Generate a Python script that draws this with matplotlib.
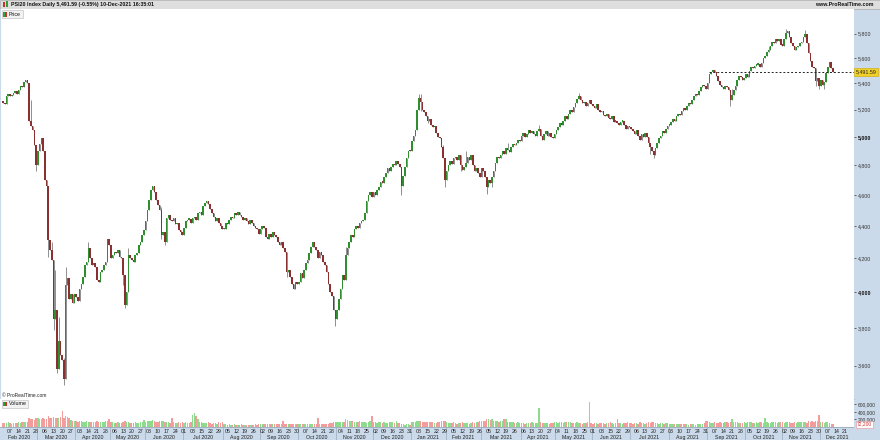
import numpy as np
import pandas as pd
import matplotlib
matplotlib.use('Agg')
from matplotlib import pyplot as plt
from matplotlib.patches import Rectangle
from matplotlib.transforms import blended_transform_factory

plt.rcParams['font.family'] = ['Liberation Sans', 'DejaVu Sans']

# ---- data ----
title = 'PSI20 Index Daily 5,491.59 (-0.55%) 10-Dec-2021 16:35:01'
site = 'www.ProRealTime.com'
first_open = 5265
last_price = 5491.59
last_volume = 72200

holidays = ['2020-04-10', '2020-04-13', '2020-05-01', '2020-12-25',
            '2021-01-01', '2021-04-02', '2021-04-05']

closes = [
    # Feb 2020
    5250, 5240, 5300, 5320, 5300, 5310, 5330, 5340, 5320, 5350, 5380, 5370, 5410, 5430, 5400, 5120, 5080, 5050, 4940, 4800,
    # Mar 2020
    4900, 4950, 4990, 4900, 4700, 4660, 4310, 4250, 4190, 3850, 3900, 3580, 3730, 3655, 3630, 3530, 4040, 4080, 3960, 3990, 3940, 3990,
    # Apr 2020
    3970, 3950, 4020, 4050, 4090, 4160, 4180, 4260, 4200, 4160, 4170, 4150, 4070, 4060, 4120, 4130, 4160, 4180, 4320, 4280,
    # May 2020
    4200, 4220, 4240, 4230, 4250, 4210, 4200, 4100, 3930, 4000, 4220, 4200, 4190, 4180, 4220, 4230, 4280, 4300, 4340, 4375,
    # Jun 2020
    4430, 4500, 4570, 4630, 4660, 4620, 4570, 4535, 4500, 4340, 4360, 4300, 4450, 4470, 4440, 4430, 4450, 4410, 4420, 4375, 4360, 4345,
    # Jul 2020
    4390, 4430, 4440, 4445, 4420, 4450, 4460, 4440, 4480, 4490, 4470, 4530, 4550, 4560, 4540, 4510, 4480, 4460, 4430, 4450, 4420, 4400, 4380,
    # Aug 2020
    4380, 4420, 4410, 4440, 4460, 4450, 4480, 4470, 4490, 4470, 4460, 4440, 4450, 4430, 4410, 4440, 4420, 4400, 4390, 4380, 4350,
    # Sep 2020
    4380, 4400, 4390, 4330, 4320, 4350, 4330, 4360, 4340, 4330, 4300, 4280, 4300, 4260, 4240, 4120, 4130, 4090, 4050, 4020, 4060, 4050,
    # Oct 2020
    4060, 4110, 4080, 4130, 4170, 4190, 4230, 4270, 4300, 4270, 4250, 4200, 4240, 4220, 4180, 4160, 4120, 4050, 4000, 3980, 3900, 3850,
    # Nov 2020
    3900, 3960, 4020, 4100, 4070, 4220, 4260, 4300, 4340, 4330, 4380, 4400, 4390, 4420, 4430, 4440, 4480, 4560, 4600, 4620, 4590,
    # Dec 2020
    4620, 4600, 4630, 4650, 4690, 4680, 4720, 4750, 4780, 4760, 4790, 4810, 4800, 4830, 4810, 4790, 4660, 4730, 4790, 4850, 4900, 4898,
    # Jan 2021
    4970, 5010, 5050, 5200, 5290, 5260, 5200, 5180, 5150, 5120, 5130, 5090, 5070, 5080, 5030, 5000, 4990, 4930, 4850, 4700,
    # Feb 2021
    4760, 4800, 4830, 4810, 4850, 4860, 4840, 4870, 4800, 4770, 4790, 4820, 4860, 4840, 4870, 4800, 4760, 4780, 4750, 4720,
    # Mar 2021
    4780, 4760, 4720, 4650, 4700, 4680, 4720, 4760, 4820, 4860, 4850, 4870, 4900, 4880, 4920, 4910, 4890, 4930, 4950, 4940, 4960, 4980, 4970,
    # Apr 2021
    5010, 5030, 5000, 5020, 5050, 5030, 5040, 5020, 5010, 5040, 5060, 5010, 4980, 5020, 5040, 5010, 5030, 5000, 4990, 5020,
    # May 2021
    5050, 5070, 5100, 5090, 5120, 5150, 5130, 5170, 5200, 5180, 5220, 5250, 5280, 5300, 5270, 5250, 5260, 5230, 5250, 5270, 5240,
    # Jun 2021
    5230, 5210, 5240, 5200, 5180, 5190, 5160, 5150, 5170, 5140, 5130, 5150, 5110, 5120, 5100, 5090, 5110, 5120, 5090, 5060, 5080, 5070,
    # Jul 2021
    5060, 5040, 5020, 5050, 5010, 4980, 5020, 5000, 5030, 5000, 4960, 4930, 4900, 4870, 4920, 4960, 4990, 5010, 5040, 5030, 5060, 5080,
    # Aug 2021
    5090, 5110, 5130, 5120, 5150, 5170, 5160, 5190, 5210, 5200, 5230, 5250, 5240, 5270, 5300, 5320, 5310, 5340, 5370, 5390, 5380, 5360,
    # Sep 2021
    5400, 5470, 5490, 5500, 5490, 5460, 5420, 5390, 5370, 5360, 5380, 5370, 5350, 5270, 5310, 5350, 5380, 5430, 5460, 5450, 5430, 5440,
    # Oct 2021
    5470, 5450, 5500, 5530, 5520, 5540, 5545, 5550, 5530, 5560, 5600, 5620, 5650, 5670, 5700, 5730, 5720, 5760, 5740, 5760, 5710,
    # Nov 2021
    5700, 5760, 5810, 5820, 5770, 5720, 5700, 5670, 5690, 5700, 5720, 5730, 5770, 5800, 5720, 5640, 5580, 5530, 5520, 5420, 5440, 5380,
    # Dec 2021
    5430, 5390, 5410, 5480, 5530, 5570, 5522, 5491.59,
]

# wicks that stand out beyond the bodies (bar index -> price)
high_marks = {16: 5270, 26: 4490, 28: 4300, 30: 4130, 32: 3860, 35: 3640, 36: 4150,
              49: 4300, 72: 4260, 91: 4520, 197: 4270, 239: 5320, 240: 5320, 253: 4940,
              266: 4900, 290: 4960, 308: 5090, 331: 5330, 419: 5360, 440: 5700,
              450: 5840, 461: 5830, 463: 5700}
low_marks = {19: 4760, 26: 4210, 29: 3790, 31: 3560, 32: 3590, 35: 3500, 47: 4120,
             69: 4040, 70: 3910, 83: 4430, 91: 4320, 93: 4280, 163: 4090, 191: 3810,
             229: 4600, 240: 5190, 244: 5100, 254: 4650, 263: 4760, 278: 4610, 281: 4650,
             372: 4880, 374: 4850, 401: 5360, 418: 5230, 467: 5380, 469: 5360, 472: 5360}

volumes_k = [
    110, 95, 100, 120, 105, 90, 100, 95, 110, 120, 105, 130, 140, 125, 120, 230, 210, 200, 190, 250,
    240, 220, 200, 230, 220, 210, 280, 240, 230, 260, 250, 240, 230, 260, 420, 250, 300, 260, 230, 180, 160, 170,
    150, 140, 160, 150, 130, 140, 150, 130, 120, 140, 130, 120, 150, 140, 130, 120, 140, 160, 150, 200,
    130, 120, 110, 100, 120, 110, 100, 130, 150, 120, 140, 110, 100, 110, 120, 100, 110, 120, 130, 180,
    140, 160, 150, 170, 180, 160, 140, 130, 150, 170, 150, 140, 130, 120, 110, 230, 120, 110, 100, 120, 110, 130,
    110, 120, 100, 110, 130, 330, 380, 300, 210, 130, 120, 110, 100, 110, 120, 100, 90, 110, 100, 90, 120, 110, 130,
    80, 70, 60, 70, 65, 60, 70, 55, 60, 65, 70, 60, 55, 60, 65, 60, 55, 60, 70, 65, 90,
    80, 70, 75, 80, 70, 85, 90, 80, 75, 70, 80, 85, 90, 170, 90, 80, 70, 80, 75, 80, 70, 85,
    80, 75, 70, 80, 85, 75, 70, 80, 90, 85, 80, 240, 90, 80, 75, 85, 80, 90, 100, 110, 120, 130,
    130, 120, 140, 130, 120, 200, 180, 170, 160, 150, 140, 130, 120, 150, 140, 130, 120, 110, 140, 160, 280,
    130, 120, 110, 120, 130, 110, 120, 100, 110, 120, 130, 120, 110, 170, 110, 100, 90, 80, 60, 70, 90, 60,
    120, 130, 140, 160, 170, 150, 140, 130, 120, 130, 120, 140, 120, 110, 100, 130, 140, 150, 160, 170,
    120, 110, 100, 110, 120, 100, 90, 110, 100, 120, 110, 100, 110, 90, 100, 120, 110, 130, 140, 160,
    150, 170, 160, 210, 220, 180, 200, 170, 160, 150, 140, 150, 160, 200, 220, 130, 140, 120, 130, 110, 100, 120, 110,
    110, 100, 90, 100, 110, 100, 120, 110, 100, 110, 500, 120, 110, 100, 110, 100, 90, 100, 110, 120,
    120, 110, 130, 120, 110, 120, 140, 130, 120, 110, 100, 110, 120, 110, 100, 90, 110, 100, 120, 650, 110,
    90, 100, 110, 90, 100, 110, 100, 90, 100, 110, 120, 100, 90, 100, 220, 110, 100, 90, 100, 110, 120, 100,
    100, 90, 110, 100, 90, 120, 100, 110, 90, 100, 120, 110, 130, 140, 110, 100, 90, 100, 110, 90, 100, 110,
    90, 80, 70, 80, 90, 80, 70, 80, 90, 80, 70, 60, 70, 80, 70, 60, 70, 80, 90, 80, 100, 150,
    150, 130, 110, 100, 120, 110, 100, 120, 110, 100, 120, 130, 110, 120, 200, 140, 130, 120, 110, 100, 110, 120,
    110, 120, 130, 120, 110, 100, 120, 110, 130, 120, 110, 240, 120, 110, 100, 120, 130, 120, 110, 130, 140,
    120, 110, 130, 140, 120, 110, 100, 120, 110, 130, 140, 120, 130, 120, 110, 160, 140, 150, 130, 170, 150, 330,
    130, 140, 110, 120, 130, 100, 90, 72.2,
]

price_ticks = [3600, 3800, 4000, 4200, 4400, 4600, 4800, 5000, 5200, 5400, 5600, 5800]
bold_ticks = [4000, 5000]
volume_ticks = [200000, 400000, 600000]

# ---- layout helpers (pixel boxes, top-left origin) ----
W, H = 880, 440


def box(x0, y0, x1, y1):
    return [x0 / W, 1 - y1 / H, (x1 - x0) / W, (y1 - y0) / H]


def fig_rect(x0, y0, x1, y1, **kw):
    fig.patches.append(Rectangle((x0 / W, 1 - y1 / H), (x1 - x0) / W, (y1 - y0) / H,
                                 transform=fig.transFigure, **kw))


blue = '#cbdaea'
green = '#2f8f2f'
red = '#8a3030'
fs = 3.8

fig = plt.figure(figsize=(8.8, 4.4), dpi=100)
fig.patch.set_facecolor('white')

# right scale strip and title bar
fig_rect(854, 9, 880, 440, facecolor=blue, edgecolor='none', zorder=-1)
fig_rect(0, 0, 880, 9, facecolor='#dedede', edgecolor='#a8a8a8', linewidth=0.5, zorder=-1)
fig_rect(2.5, 2.5, 4.5, 7.5, facecolor='#d03030', edgecolor='none', zorder=2)
fig_rect(5.5, 1.5, 7.5, 7.5, facecolor='#30a030', edgecolor='none', zorder=2)
fig.text(11 / W, 1 - 4.6 / H, title, fontsize=fs, fontweight='bold', va='center', color='#111111')
fig.text(874 / W, 1 - 4.6 / H, site, fontsize=fs, fontweight='bold', va='center', ha='right', color='#111111')

# trading calendar
days = pd.bdate_range('2020-02-03', '2021-12-31')
days = days[~days.isin(pd.to_datetime(holidays))]
xmin, xmax = -1.75, 489.1

closes = np.array(closes, dtype=float)
volumes = np.array(volumes_k) * 1000
n = len(closes)
idx = np.arange(n)
opens = np.r_[first_open, closes[:-1]]
up = closes >= opens
body_lo = np.minimum(opens, closes)
body_hi = np.maximum(np.maximum(opens, closes), body_lo * 1.0022)
highs = body_hi.copy()
lows = body_lo.copy()
for i, v in high_marks.items():
    highs[i] = max(highs[i], v)
for i, v in low_marks.items():
    lows[i] = min(lows[i], v)

# ---- price panel ----
ax = fig.add_axes(box(0, 9, 854, 399))
ax.set_yscale('log')
ax.vlines(idx, lows, highs, color='#8f8f8f', linewidth=0.7, zorder=1)
ax.bar(idx, body_hi - body_lo, bottom=body_lo, width=0.9,
       color=np.where(up, green, red), linewidth=0, zorder=2)
ax.hlines(last_price, 406, xmax, colors='#222222', linewidth=0.7, linestyles=(0, (2, 2)), zorder=3)
ax.set_xlim(xmin, xmax)
ax.set_ylim(3431, 6010)
ax.set_yticks(price_ticks, labels=[f'{t:,}' for t in price_ticks])
ax.minorticks_off()
ax.yaxis.tick_right()
ax.tick_params(axis='y', labelsize=fs, colors='#333333', length=1.5, width=0.5, pad=1)
for lab, t in zip(ax.get_yticklabels(), price_ticks):
    if t in bold_ticks:
        lab.set_fontweight('bold')
        lab.set_color('#111111')
ax.set_xticks([])
for s in ax.spines.values():
    s.set_visible(False)
ax.spines['bottom'].set_visible(True)
ax.spines['bottom'].set_color('#b0b0b0')
ax.spines['bottom'].set_linewidth(0.6)
ax.spines['left'].set_visible(True)
ax.spines['left'].set_color(blue)

edge = blended_transform_factory(ax.transAxes, ax.transData)
ax.text(1 + 1.5 / 854, last_price, f'{last_price:,.2f}', transform=edge, fontsize=fs,
        va='center', ha='left', color='#222222', clip_on=False,
        bbox=dict(boxstyle='square,pad=0.25', facecolor='#f2d028', edgecolor='#c9a800', linewidth=0.4))

# legend tag and copyright
fig_rect(1.5, 10.5, 23, 18.5, facecolor='#f2f2f2', edgecolor='#b8b8b8', linewidth=0.4, zorder=3)
fig_rect(3, 12, 5, 17, facecolor='#30a030', edgecolor='none', zorder=4)
fig_rect(5, 12, 7, 17, facecolor='#d03030', edgecolor='none', zorder=4)
fig.text(9 / W, 1 - 14.6 / H, 'Price', fontsize=fs, va='center', color='#111111', zorder=5)
fig.text(2 / W, 1 - 395 / H, '\u00a9 ProRealTime.com', fontsize=3.5, va='center', color='#222222')

# ---- volume panel ----
axv = fig.add_axes(box(0, 399, 854, 427))
axv.bar(idx, volumes, width=0.8, color=np.where(up, '#8cdc8c', '#f29c9c'), linewidth=0)
axv.set_xlim(xmin, xmax)
axv.set_ylim(0, 740000)
axv.set_yticks(volume_ticks, labels=[f'{t:,}' for t in volume_ticks])
axv.yaxis.tick_right()
axv.tick_params(axis='y', labelsize=3.5, colors='#333333', length=1.5, width=0.5, pad=1)
axv.set_xticks([])
for s in axv.spines.values():
    s.set_visible(False)
vedge = blended_transform_factory(axv.transAxes, axv.transData)
axv.text(1 + 3 / 854, last_volume, f'{last_volume:,}', transform=vedge, fontsize=3.5,
         va='center', ha='left', color='#d03030', clip_on=False,
         bbox=dict(boxstyle='square,pad=0.2', facecolor='white', edgecolor='#e89090', linewidth=0.4))
fig_rect(1.5, 400, 28, 407.5, facecolor='#f2f2f2', edgecolor='#b8b8b8', linewidth=0.4, zorder=3)
fig_rect(3, 401.5, 5, 406, facecolor='#30a030', edgecolor='none', zorder=4)
fig_rect(5, 401.5, 7, 406, facecolor='#d03030', edgecolor='none', zorder=4)
fig.text(9 / W, 1 - 403.8 / H, 'Volume', fontsize=fs, va='center', color='#111111', zorder=5)

# ---- date band ----
axd = fig.add_axes(box(0, 427, 854, 440))
axd.set_facecolor(blue)
axd.set_xlim(xmin, xmax)
axd.set_ylim(0, 1)
axd.set_xticks([])
axd.set_yticks([])
for s in axd.spines.values():
    s.set_visible(False)
axd.axhline(1, color='#9aaabb', linewidth=0.6)
for i in range(4, 487, 5):
    axd.text(i, 0.68, days[i].strftime('%d'), fontsize=fs, ha='center', va='center', color='#222222')
months = pd.Series(np.arange(len(days)), index=days).groupby([days.year, days.month])
for (yr, mo), grp in months:
    a, b = grp.iloc[0], min(grp.iloc[-1], xmax)
    if a > 0:
        axd.vlines(a - 0.5, 0, 1, colors='#9aaabb', linewidth=0.5)
    axd.text((a + b) / 2, 0.2, days[a].strftime('%b %Y'), fontsize=fs, ha='center', va='center', color='#222222')

fig.savefig('out.png', dpi=100)
